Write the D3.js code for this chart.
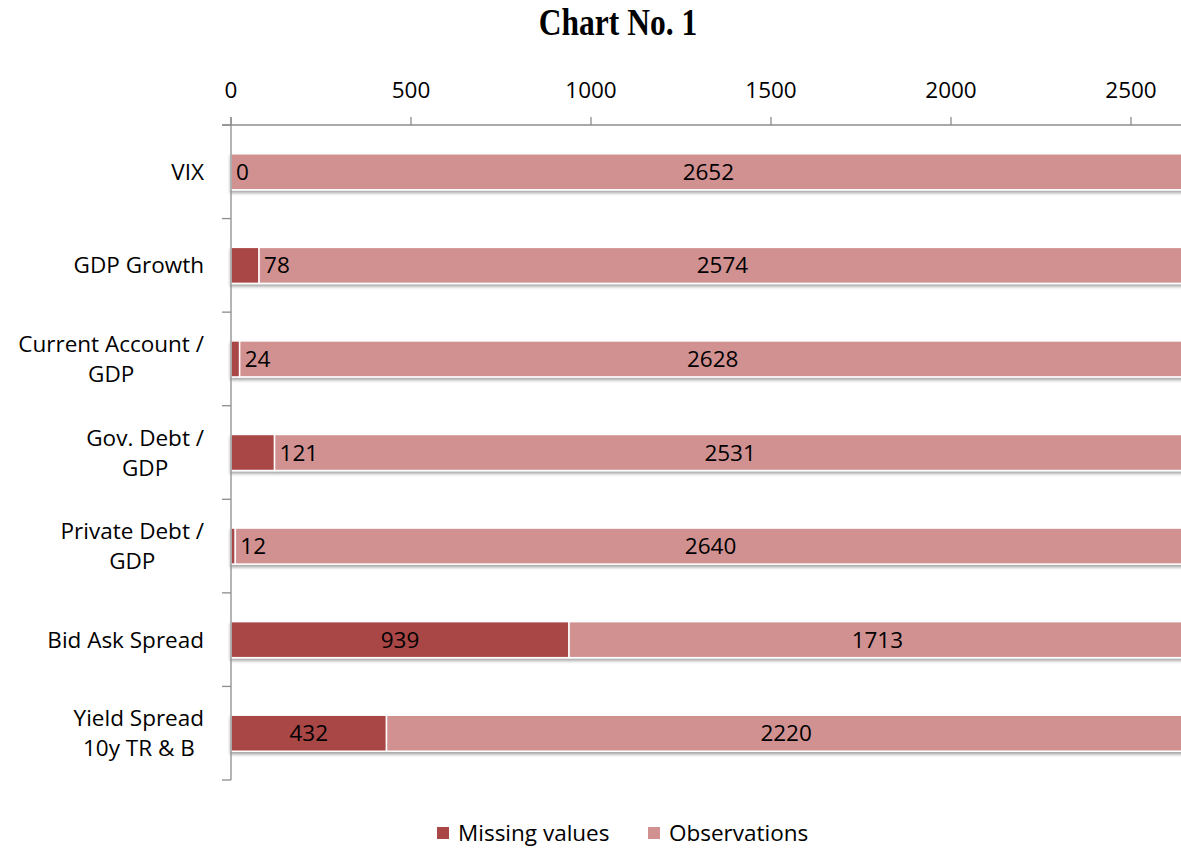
<!DOCTYPE html>
<html>
<head>
<meta charset="utf-8">
<script src="https://cdn.jsdelivr.net/npm/d3@7"></script>
<style>
  html, body { margin: 0; padding: 0; background: #fff; }
  svg { display: block; }
</style>
</head>
<body>
<svg id="chart" width="1181" height="848"></svg>
<script>
// Missing values vs. observations per indicator
const categories = [
  ["VIX"],
  ["GDP Growth"],
  ["Current Account /", "GDP"],
  ["Gov. Debt /", "GDP"],
  ["Private Debt /", "GDP"],
  ["Bid Ask Spread"],
  ["Yield Spread", "10y TR & B"]
];
const missingValues = [0, 78, 24, 121, 12, 939, 432];
const observations = [2652, 2574, 2628, 2531, 2640, 1713, 2220];
const xTicks = [0, 500, 1000, 1500, 2000, 2500];
const seriesNames = ["Missing values", "Observations"];
const seriesColors = ["#a94646", "#d19191"];

const W = 1181, H = 848;
const svg = d3.select("#chart");
const font = "'Open Sans', sans-serif";
const fs = "22.5px";

const plot = { left: 231, top: 125, bottom: 780 };

const x = d3.scaleLinear().domain([0, 3000]).range([plot.left, plot.left + 3000 * 0.36]);
const keys = categories.map((c, i) => i);
const y = d3.scaleBand().domain(keys).range([plot.top, plot.bottom])
  .paddingInner(0.615).paddingOuter(0.3075);

// drop shadow under bars
const defs = svg.append("defs");
const f = defs.append("filter").attr("id", "shadow")
  .attr("x", "-5%").attr("y", "-20%").attr("width", "110%").attr("height", "160%");
f.append("feDropShadow").attr("dx", 0).attr("dy", 2.5).attr("stdDeviation", 1.6)
  .attr("flood-color", "#000").attr("flood-opacity", 0.35);

// Title
svg.append("text")
  .attr("transform", "translate(618,35) scale(1,1.2)")
  .attr("text-anchor", "middle")
  .style("font-family", "'Liberation Serif', 'Times New Roman', serif")
  .style("font-weight", "bold")
  .style("font-size", "31.5px")
  .text("Chart No. 1");

// Stacked bars
const stacked = keys.map(i => ({
  i,
  segs: [
    { s: 0, x0: 0, x1: missingValues[i], v: missingValues[i] },
    { s: 1, x0: missingValues[i], x1: missingValues[i] + observations[i], v: observations[i] }
  ]
}));

const barG = svg.append("g");
stacked.forEach(row => {
  const g = barG.append("g").attr("filter", "url(#shadow)");
  row.segs.forEach(seg => {
    if (seg.v <= 0) return;
    g.append("rect")
      .attr("x", x(seg.x0))
      .attr("y", y(row.i))
      .attr("width", x(seg.x1) - x(seg.x0))
      .attr("height", y.bandwidth())
      .attr("fill", seriesColors[seg.s])
      .attr("stroke", "#fff")
      .attr("stroke-width", 1.5);
  });
});

// Axes
const axisColor = "#8c8c8c";
const axisG = svg.append("g");
axisG.append("line")
  .attr("x1", plot.left - 9).attr("x2", W)
  .attr("y1", plot.top).attr("y2", plot.top)
  .attr("stroke", axisColor).attr("stroke-width", 1.3);
axisG.append("line")
  .attr("x1", plot.left).attr("x2", plot.left)
  .attr("y1", plot.top - 8).attr("y2", plot.bottom)
  .attr("stroke", axisColor).attr("stroke-width", 1.3);

xTicks.forEach(t => {
  axisG.append("line")
    .attr("x1", x(t)).attr("x2", x(t))
    .attr("y1", plot.top - 8).attr("y2", plot.top)
    .attr("stroke", axisColor).attr("stroke-width", 1.3);
  axisG.append("text")
    .attr("x", x(t)).attr("y", 98)
    .attr("text-anchor", "middle")
    .style("font-family", font).style("font-size", fs).attr("fill", "#000")
    .text(t);
});

for (let k = 0; k <= keys.length; k++) {
  const yy = plot.top + k * y.step();
  axisG.append("line")
    .attr("x1", plot.left - 9).attr("x2", plot.left)
    .attr("y1", yy).attr("y2", yy)
    .attr("stroke", axisColor).attr("stroke-width", 1.3);
}

// Category labels: lines centered among themselves, block right-aligned
const catG = svg.append("g");
categories.forEach((lines, i) => {
  const cy = y(i) + y.bandwidth() / 2;
  const lh = 30;
  const g = catG.append("g");
  const texts = lines.map((ln, j) => g.append("text")
    .attr("y", cy + (j - (lines.length - 1) / 2) * lh + 8)
    .attr("text-anchor", "middle")
    .style("font-family", font).style("font-size", fs).attr("fill", "#000")
    .text(ln));
  const widths = texts.map(t => t.node().getComputedTextLength());
  const maxW = d3.max(widths);
  const center = 204 - maxW / 2;
  texts.forEach(t => t.attr("x", center));
});

// Data labels
const labG = svg.append("g");
stacked.forEach(row => {
  const cy = y(row.i) + y.bandwidth() / 2 + 8;
  row.segs.forEach(seg => {
    const xa = x(seg.x0);
    const xb = Math.min(x(seg.x1), W + 5);
    const t = labG.append("text")
      .attr("y", cy)
      .style("font-family", font).style("font-size", fs).attr("fill", "#000")
      .text(seg.v);
    const tw = t.node().getComputedTextLength();
    if (xb - xa >= tw + 20) {
      t.attr("x", (xa + xb) / 2).attr("text-anchor", "middle");
    } else {
      t.attr("x", x(seg.x1) + 5).attr("text-anchor", "start");
    }
  });
});

// Legend
const legend = svg.append("g");
const legItems = [{ x: 437, name: seriesNames[0], c: seriesColors[0] },
                  { x: 648, name: seriesNames[1], c: seriesColors[1] }];
legItems.forEach(it => {
  legend.append("rect")
    .attr("x", it.x).attr("y", 827).attr("width", 12).attr("height", 12)
    .attr("fill", it.c);
  legend.append("text")
    .attr("x", it.x + 21).attr("y", 841)
    .style("font-family", font).style("font-size", fs).attr("fill", "#000")
    .text(it.name);
});
</script>
</body>
</html>
